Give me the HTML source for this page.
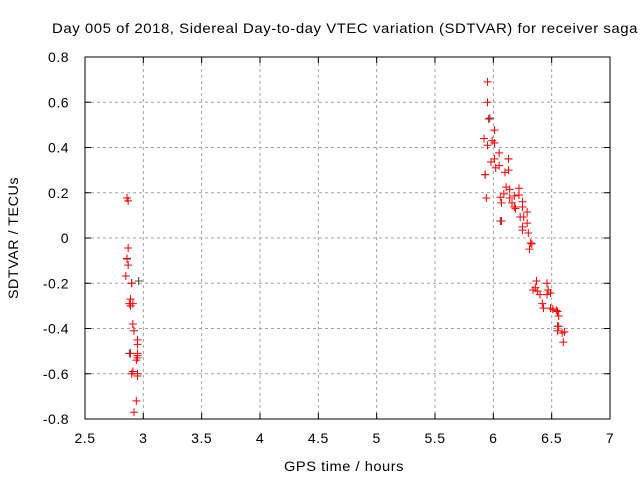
<!DOCTYPE html>
<html><head><meta charset="utf-8"><style>
body{margin:0;background:#fff}
svg text{font-family:"Liberation Sans",sans-serif;font-size:14px;fill:#000;letter-spacing:0.5px}
</style></head><body>
<svg id="chart" width="640" height="480" xmlns="http://www.w3.org/2000/svg">
<text x="52" y="33" textLength="586" lengthAdjust="spacingAndGlyphs">Day 005 of 2018, Sidereal Day-to-day VTEC variation (SDTVAR) for receiver saga</text>
<g id="grid"></g><g id="axes"></g><g id="marks"></g>
<text x="284" y="471" textLength="120" lengthAdjust="spacingAndGlyphs">GPS time / hours</text>
<text transform="translate(18,299) rotate(-90)" textLength="122" lengthAdjust="spacingAndGlyphs">SDTVAR / TECUs</text>
</svg>
<script>
const xTicks=[2.5,3,3.5,4,4.5,5,5.5,6,6.5,7];
const xTickLabels=["2.5","3","3.5","4","4.5","5","5.5","6","6.5","7"];
const yTicks=[-0.8,-0.6,-0.4,-0.2,0,0.2,0.4,0.6,0.8];
const yTickLabels=["-0.8","-0.6","-0.4","-0.2","0","0.2","0.4","0.6","0.8"];
const redHours=[2.86,2.87,2.87,2.86,2.87,2.85,2.90,2.89,2.88,2.89,2.91,2.91,2.92,2.95,2.95,2.89,2.95,2.95,2.94,2.95,2.91,2.95,2.95,2.90,2.94,2.92,
5.95,5.95,5.96,6.01,5.92,5.99,6.01,5.95,6.05,6.01,5.98,6.13,6.05,6.02,6.13,6.10,5.93,6.11,5.94,6.14,6.22,6.09,6.18,6.22,6.06,6.14,6.07,6.16,6.25,6.18,6.25,6.19,6.29,6.07,6.23,6.26,6.29,6.25,6.25,6.30,6.32,6.33,6.31,6.37,6.46,6.34,6.36,6.38,6.40,6.47,6.46,6.49,6.42,6.43,6.49,6.51,6.54,6.55,6.56,6.56,6.55,6.59,6.61,6.60];
const redValues=[0.177,0.164,-0.044,-0.093,-0.12,-0.168,-0.199,-0.27,-0.29,-0.30,-0.29,-0.38,-0.41,-0.45,-0.47,-0.51,-0.51,-0.53,-0.54,-0.52,-0.59,-0.60,-0.61,-0.60,-0.72,-0.77,
0.69,0.60,0.526,0.477,0.44,0.43,0.42,0.41,0.376,0.35,0.336,0.35,0.32,0.31,0.30,0.29,0.28,0.225,0.177,0.215,0.22,0.195,0.186,0.19,0.18,0.177,0.155,0.155,0.16,0.137,0.137,0.13,0.115,0.075,0.093,0.093,0.066,0.049,0.035,0.022,-0.022,-0.026,-0.049,-0.19,-0.20,-0.23,-0.22,-0.235,-0.25,-0.23,-0.25,-0.243,-0.29,-0.31,-0.31,-0.315,-0.32,-0.325,-0.345,-0.39,-0.41,-0.42,-0.415,-0.46];
const blackHours=[2.86,2.90,2.96,2.88,5.97,5.93,6.13,6.22,6.55,6.06];
const blackValues=[-0.09,-0.20,-0.19,-0.51,0.53,0.28,0.35,0.19,-0.39,0.075];
const L=85,R=610,T=57,B=419;
const xs=h=>L+(h-2.5)/4.5*(R-L);
const ys=v=>B-(v+0.8)/1.6*(B-T);
const NS="http://www.w3.org/2000/svg";
function mk(tag,attrs,parent){const e=document.createElementNS(NS,tag);for(const k in attrs)e.setAttribute(k,attrs[k]);parent.appendChild(e);return e;}
const grid=document.getElementById('grid'),axes=document.getElementById('axes'),marks=document.getElementById('marks');
xTicks.forEach((t,i)=>{const x=xs(t);
 if(i>0&&i<xTicks.length-1){const g=mk('line',{x1:x,x2:x,y1:T,y2:B,stroke:'#a0a0a0','stroke-dasharray':'3,3'},grid);
 
 }
 mk('line',{x1:x,x2:x,y1:B,y2:B-6,stroke:'#000'},axes);mk('line',{x1:x,x2:x,y1:T,y2:T+6,stroke:'#000'},axes);
 const tx=mk('text',{x:x,y:B+24,'text-anchor':'middle'},axes);tx.textContent=xTickLabels[i];
 
 });
yTicks.forEach((t,i)=>{const y=ys(t);
 if(i>0&&i<yTicks.length-1){const g=mk('line',{x1:L,x2:R,y1:y,y2:y,stroke:'#a0a0a0','stroke-dasharray':'3,3'},grid);
 
 }
 mk('line',{x1:L,x2:L+6,y1:y,y2:y,stroke:'#000'},axes);mk('line',{x1:R,x2:R-6,y1:y,y2:y,stroke:'#000'},axes);
 const tx=mk('text',{x:L-16,y:y+5,'text-anchor':'end'},axes);tx.textContent=yTickLabels[i];
 
 });
const fr=mk('rect',{x:L,y:T,width:R-L,height:B-T,fill:'none',stroke:'#000'},axes);


function cross(h,v,col,name){const x=xs(h),y=ys(v);
 const p=mk('path',{d:`M${x-4},${y}H${x+4}M${x},${y-4}V${y+4}`,stroke:col,'stroke-width':1},marks);
 
 }
blackHours.forEach((h,i)=>cross(h,blackValues[i],'#444','black-point'));
redHours.forEach((h,i)=>cross(h,redValues[i],'#ff0000','red-point'));
</script>
</body></html>
